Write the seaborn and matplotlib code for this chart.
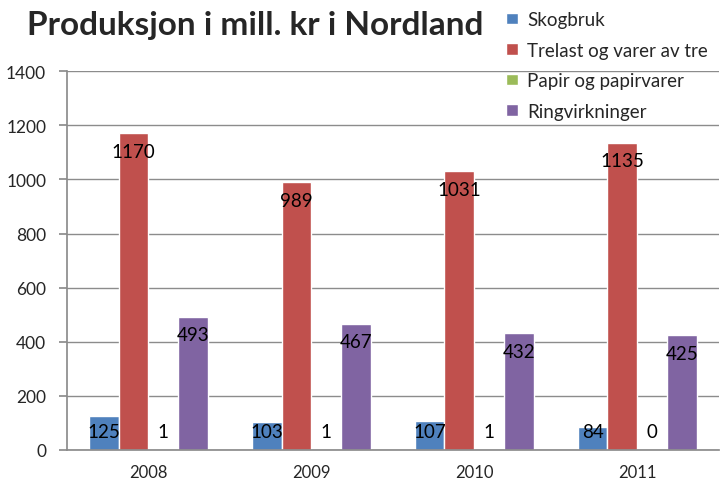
import pandas as pd
import matplotlib.pyplot as plt
import seaborn as sns

# Data (mill. kr)
years = ['2008', '2009', '2010', '2011']
series = ['Skogbruk', 'Trelast og varer av tre', 'Papir og papirvarer', 'Ringvirkninger']
skogbruk = [125, 103, 107, 84]
trelast = [1170, 989, 1031, 1135]
papir = [1, 1, 1, 0]
ringvirkninger = [493, 467, 432, 425]
colors = ['#4F81BD', '#C0504D', '#9BBB59', '#8064A2']

rows = []
for name, vals in zip(series, [skogbruk, trelast, papir, ringvirkninger]):
    for yr, v in zip(years, vals):
        rows.append({'Year': yr, 'Serie': name, 'Value': v})
df = pd.DataFrame(rows)

sns.set_theme(style="white")
plt.rcParams['font.family'] = ['Lato', 'DejaVu Sans']

fig = plt.figure(figsize=(7.2, 4.81), dpi=100)
ax = fig.add_axes([0.093, 0.0624, 0.905, 0.7876])

sns.barplot(data=df, x='Year', y='Value', hue='Serie', hue_order=series,
            palette=colors, width=0.73, saturation=1, ax=ax, legend=True)

# value labels, Excel "inside end" style (small bars get label near the base)
for container in ax.containers:
    for bar in container:
        v = bar.get_height()
        xc = bar.get_x() + bar.get_width() / 2
        if v >= 132:
            ax.annotate(f'{v:.0f}', (xc, v), xytext=(0, -13), textcoords='offset points',
                        ha='center', va='center', fontsize=13.5, color='black')
        else:
            ax.annotate(f'{v:.0f}', (xc, 0), xytext=(0, 13), textcoords='offset points',
                        ha='center', va='center', fontsize=13.5, color='black')

ax.set_ylim(0, 1400)
ax.set_yticks(range(0, 1401, 200))
ax.set_xlim(-0.5, 3.5)
ax.yaxis.grid(True, color='#8c8c8c', linewidth=1)
ax.set_axisbelow(True)
ax.set_xlabel('')
ax.set_ylabel('')
for s in ['top', 'right']:
    ax.spines[s].set_visible(False)
for s in ['left', 'bottom']:
    ax.spines[s].set_color('#8c8c8c')
ax.set_xticks([-0.5, 0.5, 1.5, 2.5, 3.5], minor=True)
ax.tick_params(axis='x', which='major', length=0, labelsize=12, pad=10)
ax.tick_params(axis='x', which='minor', length=7, color='#8c8c8c', direction='out')
ax.tick_params(axis='y', length=6, color='#8c8c8c', direction='out', left=True,
               labelsize=12.5, pad=9)

handles, labels = ax.get_legend_handles_labels()
ax.get_legend().remove()
fig.legend(handles, labels, loc='upper left', bbox_to_anchor=(0.68, 1.01),
           frameon=False, fontsize=13.5, handlelength=0.6, handleheight=0.6,
           handletextpad=0.5, labelspacing=0.72)

fig.text(0.037, 0.927, 'Produksjon i mill. kr i Nordland', fontsize=24,
         fontweight='bold', ha='left', va='baseline')

fig.savefig('out.png', dpi=100)
